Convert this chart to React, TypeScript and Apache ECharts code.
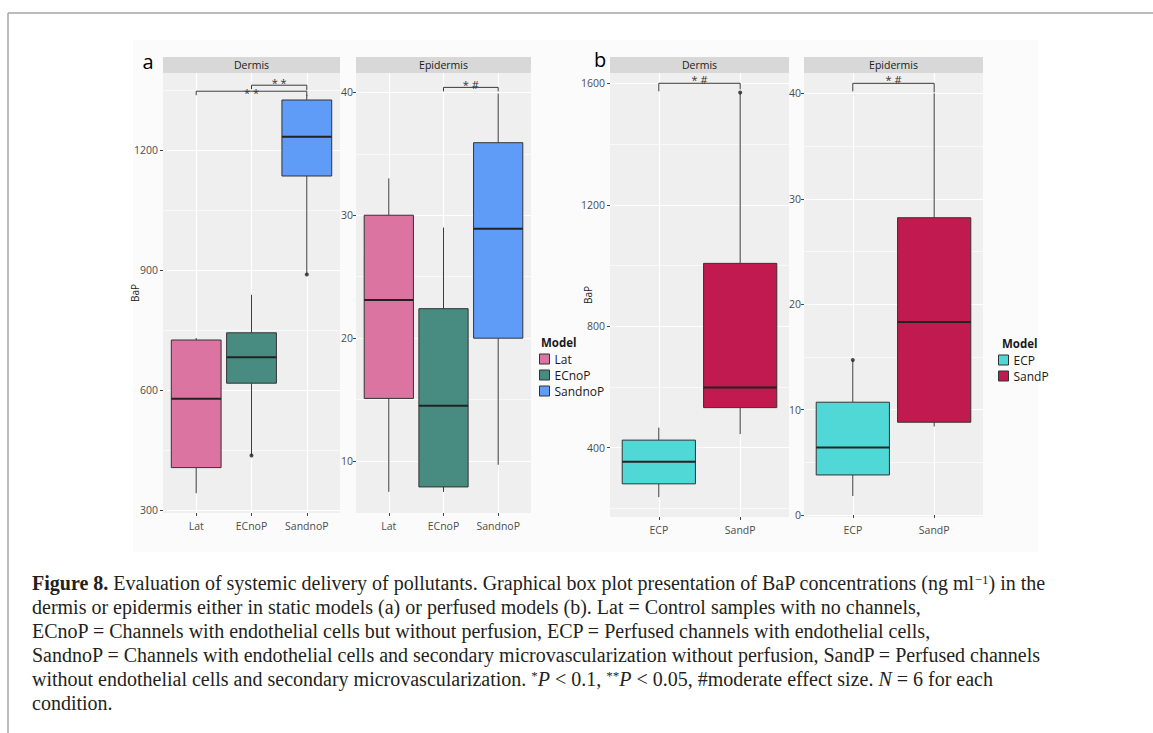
import React, { useEffect, useRef } from 'react';
import * as echarts from 'echarts';

// ---------------- data ----------------
const catsA = ['Lat', 'ECnoP', 'SandnoP'];
const catsB = ['ECP', 'SandP'];
const colorsA = ['#dc74a2', '#488c81', '#5f9cf8'];
const colorsB = ['#50d8d6', '#c01a50'];

// five-number summaries: [min, Q1, median, Q3, max]
const aDermisLat = [342, 406, 578, 725, 730];
const aDermisECnoP = [436, 617, 682, 743, 838];
const aDermisSandnoP = [889, 1135, 1233, 1325, 1338];
const aEpiLat = [7.5, 15.1, 23.1, 30.0, 33.0];
const aEpiECnoP = [7.5, 7.9, 14.5, 22.4, 29.0];
const aEpiSandnoP = [9.7, 20.0, 28.9, 35.9, 39.9];
const bDermisECP = [237, 281, 354, 425, 466];
const bDermisSandP = [445, 532, 598, 1007, 1570];
const bEpiECP = [1.8, 3.8, 6.4, 10.7, 14.7];
const bEpiSandP = [8.4, 8.8, 18.3, 28.2, 40.0];

// outlying points: [category, value]
const aDermisOutliers: [string, number][] = [['ECnoP', 436], ['SandnoP', 889]];
const aEpiOutliers: [string, number][] = [];
const bDermisOutliers: [string, number][] = [['SandP', 1570]];
const bEpiOutliers: [string, number][] = [['ECP', 14.7]];

// significance brackets
const aDermisBrackets = [
  { from: 'ECnoP', to: 'SandnoP', y: 1362, label: '* *', dy: 3 },
  { from: 'Lat', to: 'SandnoP', y: 1347, label: '* *', dy: -1 },
];
const aEpiBrackets = [{ from: 'ECnoP', to: 'SandnoP', y: 40.4, label: '* #', dy: 3 }];
const bDermisBrackets = [{ from: 'ECP', to: 'SandP', y: 1600, label: '* #', dy: 4 }];
const bEpiBrackets = [{ from: 'ECP', to: 'SandP', y: 40.95, label: '* #', dy: 4 }];

// y-axis ticks and visible ranges
const aDermisTicks = [300, 600, 900, 1200];
const aDermisMinor = [450, 750, 1050, 1350];
const aDermisRange = [292.5, 1392.5];
const aEpiTicks = [10, 20, 30, 40];
const aEpiMinor = [15, 25, 35];
const aEpiRange = [5.78, 41.57];
const bDermisTicks = [400, 800, 1200, 1600];
const bDermisMinor = [200, 600, 1000, 1400];
const bDermisRange = [171.8, 1633.9];
const bEpiTicks = [0, 10, 20, 30, 40];
const bEpiMinor = [5, 15, 25, 35];
const bEpiRange = [-0.19, 41.93];

const stripTitles = ['Dermis', 'Epidermis', 'Dermis', 'Epidermis'];
const yTitle = 'BaP';
const legendTitle = 'Model';
const panelLetters = ['a', 'b'];

const captionLines = [
  '{b|Figure 8.} Evaluation of systemic delivery of pollutants. Graphical box plot presentation of BaP concentrations (ng ml{sup|\u22121}) in the',
  'dermis or epidermis either in static models (a) or perfused models (b). Lat = Control samples with no channels,',
  'ECnoP = Channels with endothelial cells but without perfusion, ECP = Perfused channels with endothelial cells,',
  'SandnoP = Channels with endothelial cells and secondary microvascularization without perfusion, SandP = Perfused channels',
  'without endothelial cells and secondary microvascularization. {sup|*}{i|P} < 0.1, {sup|**}{i|P} < 0.05, #moderate effect size. {i|N} = 6 for each',
  'condition.',
];

// ---------------- styles / layout ----------------
const SANS = '"Open Sans", "Noto Sans", sans-serif';
const SERIF = '"Liberation Serif", "DejaVu Serif", serif';
const CAP_SIZE = 20;
const PANEL_BG = '#efefef';
const STRIP_BG = '#d8d8d8';
const EXPAND = 0.6;
const BOX_W = 0.9;
const LAYOUT = [
  { left: 163, top: 73, width: 177, height: 440, labelMargin: 5, nameGap: 23, tipL: 4, tipR: 5 },
  { left: 356, top: 73, width: 175, height: 440, labelMargin: 3, nameGap: 0, tipL: 4, tipR: 4 },
  { left: 610, top: 73, width: 179, height: 444, labelMargin: 5, nameGap: 17, tipL: 8, tipR: 6 },
  { left: 804, top: 73, width: 179, height: 444, labelMargin: 3, nameGap: 0, tipL: 8, tipR: 9 },
];

function buildOption() {
  const panels = [
    { cats: catsA, colors: colorsA, boxes: [aDermisLat, aDermisECnoP, aDermisSandnoP], outliers: aDermisOutliers, brackets: aDermisBrackets, ticks: aDermisTicks, minor: aDermisMinor, range: aDermisRange, yName: yTitle },
    { cats: catsA, colors: colorsA, boxes: [aEpiLat, aEpiECnoP, aEpiSandnoP], outliers: aEpiOutliers, brackets: aEpiBrackets, ticks: aEpiTicks, minor: aEpiMinor, range: aEpiRange, yName: '' },
    { cats: catsB, colors: colorsB, boxes: [bDermisECP, bDermisSandP], outliers: bDermisOutliers, brackets: bDermisBrackets, ticks: bDermisTicks, minor: bDermisMinor, range: bDermisRange, yName: yTitle },
    { cats: catsB, colors: colorsB, boxes: [bEpiECP, bEpiSandP], outliers: bEpiOutliers, brackets: bEpiBrackets, ticks: bEpiTicks, minor: bEpiMinor, range: bEpiRange, yName: '' },
  ];

  const grid: any[] = [];
  const xAxis: any[] = [];
  const yAxis: any[] = [];
  const series: any[] = [];
  const graphic: any[] = [];

  panels.forEach((p, i) => {
    const L = LAYOUT[i];
    const n = p.cats.length;
    const catIdx = p.cats.map((_, k) => k + 1);
    grid.push({ left: L.left, top: L.top, width: L.width, height: L.height, show: true, backgroundColor: PANEL_BG, borderWidth: 0 });
    xAxis.push({
      type: 'value', gridIndex: i, min: 1 - EXPAND, max: n + EXPAND,
      axisLine: { show: false },
      axisTick: { show: true, length: 3, customValues: catIdx, lineStyle: { color: '#444', width: 1 } },
      axisLabel: { customValues: catIdx, formatter: (v: number) => p.cats[Math.round(v) - 1] || '', fontSize: 10.5, color: '#4d4d4d', fontFamily: SANS, margin: 7 },
      splitLine: { show: true, lineStyle: { color: '#ffffff', width: 1.2 } },
    });
    yAxis.push({
      type: 'value', gridIndex: i, min: p.range[0], max: p.range[1], position: 'left',
      axisLine: { show: false },
      axisTick: { show: true, length: 3, customValues: p.ticks, lineStyle: { color: '#444', width: 1 } },
      axisLabel: { customValues: p.ticks, formatter: (v: number) => String(v), fontSize: 10.5, color: '#4d4d4d', fontFamily: SANS, margin: L.labelMargin },
      splitLine: { show: true, lineStyle: { color: '#ffffff', width: 1.2 } },
      name: p.yName, nameLocation: 'middle', nameGap: L.nameGap, nameRotate: 90, nameMoveOverlap: false,
      nameTextStyle: { fontSize: 10, color: '#1a1a1a', fontFamily: SANS },
    });
    yAxis.push({
      type: 'value', gridIndex: i, min: p.range[0], max: p.range[1], position: 'left',
      axisLine: { show: false },
      axisTick: { show: false, customValues: p.minor },
      axisLabel: { show: false },
      splitLine: { show: true, lineStyle: { color: '#ffffff', width: 0.6 } },
    });

    p.boxes.forEach((box, k) => {
      series.push({
        type: 'custom', name: p.cats[k], xAxisIndex: i, yAxisIndex: 2 * i, z: 3,
        itemStyle: { color: p.colors[k], borderColor: '#333', borderWidth: 1 },
        encode: { x: 0, y: [1, 2, 3, 4, 5] },
        data: [[k + 1, ...box]],
        renderItem: (params: any, api: any) => {
          const x = api.value(0);
          const pLo = api.coord([x, api.value(1)]);
          const pQ1 = api.coord([x, api.value(2)]);
          const pMed = api.coord([x, api.value(3)]);
          const pQ3 = api.coord([x, api.value(4)]);
          const pHi = api.coord([x, api.value(5)]);
          const half = api.size([BOX_W, 0])[0] / 2;
          const cx = pLo[0];
          const color = api.visual('color');
          return {
            type: 'group',
            children: [
              { type: 'line', shape: { x1: cx, y1: pHi[1], x2: cx, y2: pQ3[1] }, style: { stroke: '#3a3a3a', lineWidth: 1 } },
              { type: 'line', shape: { x1: cx, y1: pQ1[1], x2: cx, y2: pLo[1] }, style: { stroke: '#3a3a3a', lineWidth: 1 } },
              { type: 'rect', shape: { x: cx - half, y: pQ3[1], width: half * 2, height: pQ1[1] - pQ3[1] }, style: { fill: color, stroke: '#333', lineWidth: 1 } },
              { type: 'line', shape: { x1: cx - half, y1: pMed[1], x2: cx + half, y2: pMed[1] }, style: { stroke: '#222', lineWidth: 2 } },
            ],
          };
        },
      });
    });

    if (p.outliers.length) {
      series.push({
        type: 'scatter', xAxisIndex: i, yAxisIndex: 2 * i, z: 4, silent: true,
        symbolSize: 4, itemStyle: { color: '#222' },
        data: p.outliers.map(([c, v]) => [p.cats.indexOf(c) + 1, v]),
      });
    }

    series.push({
      type: 'custom', xAxisIndex: i, yAxisIndex: 2 * i, z: 5, silent: true,
      encode: { x: [0, 1], y: 2 },
      data: p.brackets.map((b) => [p.cats.indexOf(b.from) + 1, p.cats.indexOf(b.to) + 1, b.y]),
      renderItem: (params: any, api: any) => {
        const b = p.brackets[params.dataIndex];
        const p1 = api.coord([api.value(0), api.value(2)]);
        const p2 = api.coord([api.value(1), api.value(2)]);
        return {
          type: 'group',
          children: [
            { type: 'polyline', shape: { points: [[p1[0], p1[1] + L.tipL], [p1[0], p1[1]], [p2[0], p2[1]], [p2[0], p2[1] + L.tipR]] }, style: { stroke: '#3a3a3a', lineWidth: 1, fill: 'none' } },
            { type: 'text', style: { text: b.label, x: (p1[0] + p2[0]) / 2, y: p1[1] - b.dy, align: 'center', verticalAlign: 'middle', fontSize: 11, fontFamily: SANS, fill: '#333' } },
          ],
        };
      },
    });

    // facet strip
    graphic.push({ type: 'rect', shape: { x: L.left, y: 57, width: L.width, height: 16 }, style: { fill: STRIP_BG } });
    graphic.push({ type: 'text', style: { text: stripTitles[i], x: L.left + L.width / 2, y: 65, align: 'center', verticalAlign: 'middle', fontSize: 10.5, fontFamily: SANS, fill: '#1a1a1a' } });
  });

  // panel letters
  graphic.push({ type: 'text', style: { text: panelLetters[0], x: 148, y: 61, align: 'center', verticalAlign: 'middle', fontSize: 20, fontFamily: SANS, fill: '#000' } });
  graphic.push({ type: 'text', style: { text: panelLetters[1], x: 600, y: 59, align: 'center', verticalAlign: 'middle', fontSize: 20, fontFamily: SANS, fill: '#000' } });
  // legend titles
  graphic.push({ type: 'text', style: { text: legendTitle, x: 541, y: 342, align: 'left', verticalAlign: 'middle', fontSize: 11.5, fontWeight: 'bold', fontFamily: SANS, fill: '#1a1a1a' } });
  graphic.push({ type: 'text', style: { text: legendTitle, x: 1002, y: 343, align: 'left', verticalAlign: 'middle', fontSize: 11.5, fontWeight: 'bold', fontFamily: SANS, fill: '#1a1a1a' } });

  // page frame
  graphic.push({ type: 'line', shape: { x1: 8, y1: 13, x2: 1153, y2: 13 }, style: { stroke: '#a6a6a6', lineWidth: 1.5 } });
  graphic.push({ type: 'line', shape: { x1: 8, y1: 13, x2: 8, y2: 733 }, style: { stroke: '#a6a6a6', lineWidth: 1.5 } });
  graphic.push({ type: 'rect', z: -10, shape: { x: 133, y: 40, width: 905, height: 512 }, style: { fill: '#fbfbfb' } });

  // caption
  const rich = {
    b: { fontWeight: 'bold', fontFamily: SERIF, fontSize: CAP_SIZE, fill: '#231f20' },
    i: { fontStyle: 'italic', fontFamily: SERIF, fontSize: CAP_SIZE, fill: '#231f20' },
    sup: { fontFamily: SERIF, fontSize: 13, verticalAlign: 'top', fill: '#231f20' },
  };
  captionLines.forEach((line, k) => {
    graphic.push({
      type: 'text',
      style: { text: line, rich, x: 32, y: 583 + k * 24, align: 'left', verticalAlign: 'middle', fontFamily: SERIF, fontSize: CAP_SIZE, fill: '#231f20' },
    });
  });

  const legendBase = {
    orient: 'vertical', itemWidth: 10, itemHeight: 10, itemGap: 4, icon: 'rect', padding: 0, selectedMode: false,
    textStyle: { fontSize: 12, color: '#1a1a1a', fontFamily: SANS },
    itemStyle: { borderColor: '#333', borderWidth: 1 },
  };

  return {
    animation: false,
    backgroundColor: '#ffffff',
    grid, xAxis, yAxis, series,
    legend: [
      { ...legendBase, data: catsA, left: 539, top: 353 },
      { ...legendBase, data: catsB, left: 998, top: 354 },
    ],
    graphic: { elements: graphic },
  };
}

export default function App() {
  const ref = useRef<HTMLDivElement>(null);
  useEffect(() => {
    document.body.style.margin = '0';
    if (!ref.current) return;
    const chart = echarts.init(ref.current, null, { renderer: 'svg' });
    chart.setOption(buildOption() as any);
    return () => chart.dispose();
  }, []);
  return <div ref={ref} style={{ width: 1153, height: 733 }} />;
}
